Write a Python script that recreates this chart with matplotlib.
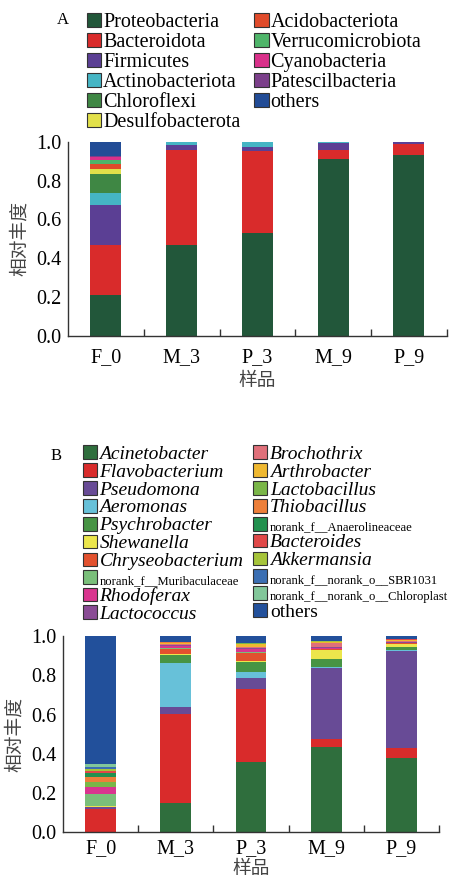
import matplotlib
matplotlib.use('Agg')
import matplotlib.pyplot as plt
import numpy as np
from matplotlib.patches import Patch

plt.rcParams['font.family'] = ['Liberation Serif', 'Noto Sans CJK SC']

samples = ['F_0', 'M_3', 'P_3', 'M_9', 'P_9']

# panel A - phylum level
phyla = ['Proteobacteria', 'Bacteroidota', 'Firmicutes', 'Actinobacteriota',
         'Chloroflexi', 'Desulfobacterota', 'Acidobacteriota', 'Verrucomicrobiota',
         'Cyanobacteria', 'Patescilbacteria', 'others']
phyla_colors = ['#22573a', '#d92b2b', '#5b3f94', '#45b5c4', '#3f8744', '#e2e04a',
                '#e04b2b', '#4fb56a', '#d9308a', '#7b3f8a', '#224c96']
proteo = [0.211, 0.468, 0.530, 0.909, 0.931]
bactero = [0.259, 0.489, 0.424, 0.050, 0.057]
firmic = [0.204, 0.024, 0.018, 0.036, 0.009]
actino = [0.062, 0.017, 0.025, 0.001, 0.001]
chloro = [0.098, 0.0, 0.0, 0.0, 0.0]
desulfo = [0.025, 0.0, 0.0, 0.0, 0.0]
acido = [0.024, 0.0, 0.0, 0.0, 0.0]
verruco = [0.021, 0.0, 0.0, 0.0, 0.0]
cyano = [0.017, 0.0, 0.0, 0.0, 0.0]
patesc = [0.007, 0.0, 0.0, 0.0, 0.0]
others_a = [0.072, 0.002, 0.003, 0.004, 0.002]
phyla_vals = [proteo, bactero, firmic, actino, chloro, desulfo, acido,
              verruco, cyano, patesc, others_a]

# panel B - genus level
genera = ['Acinetobacter', 'Flavobacterium', 'Pseudomona', 'Aeromonas',
          'Psychrobacter', 'Shewanella', 'Chryseobacterium',
          'norank_f__Muribaculaceae', 'Rhodoferax', 'Lactococcus',
          'Brochothrix', 'Arthrobacter', 'Lactobacillus', 'Thiobacillus',
          'norank_f__Anaerolineaceae', 'Bacteroides', 'Akkermansia',
          'norank_f__norank_o__SBR1031', 'norank_f__norank_o__Chloroplast', 'others']
genera_colors = ['#2f6e3d', '#d92b2b', '#684b96', '#67c1d9', '#479444', '#ece64c',
                 '#e2512e', '#7abf7a', '#d9358f', '#8a4c95', '#e0707a', '#efb830',
                 '#7ab648', '#ed7f3a', '#22914f', '#e04848', '#a6c43a', '#3b6fb3',
                 '#82c79a', '#22509b']
acineto = [0.002, 0.148, 0.360, 0.436, 0.380]
flavo = [0.117, 0.453, 0.368, 0.038, 0.048]
pseudo = [0.008, 0.036, 0.057, 0.361, 0.497]
aero = [0.002, 0.224, 0.030, 0.008, 0.006]
psychro = [0.002, 0.041, 0.051, 0.042, 0.014]
shewa = [0.001, 0.006, 0.008, 0.044, 0.016]
chryseo = [0.002, 0.026, 0.038, 0.005, 0.003]
muribac = [0.061, 0.004, 0.006, 0.002, 0.001]
rhodo = [0.034, 0.010, 0.014, 0.004, 0.002]
lactoc = [0.001, 0.007, 0.007, 0.004, 0.002]
brocho = [0.001, 0.005, 0.004, 0.022, 0.006]
arthro = [0.001, 0.006, 0.018, 0.003, 0.005]
lactob = [0.026, 0.001, 0.002, 0.001, 0.001]
thiob = [0.022, 0.001, 0.001, 0.001, 0.001]
anaero = [0.022, 0.001, 0.001, 0.0, 0.0]
bacteroides = [0.010, 0.001, 0.001, 0.001, 0.001]
akker = [0.010, 0.001, 0.001, 0.001, 0.001]
sbr = [0.013, 0.0, 0.0, 0.0, 0.0]
chloropl = [0.015, 0.0, 0.0, 0.0, 0.0]
others_b = [0.650, 0.029, 0.033, 0.027, 0.016]
genera_vals = [acineto, flavo, pseudo, aero, psychro, shewa, chryseo, muribac,
               rhodo, lactoc, brocho, arthro, lactob, thiob, anaero, bacteroides,
               akker, sbr, chloropl, others_b]

cjk = ['Noto Sans CJK SC']


def draw_stack(ax, vals, colors, xpad=9, xlpad=2):
    x = np.arange(len(samples))
    bottom = np.zeros(len(samples))
    for v, c in zip(vals, colors):
        ax.bar(x, v, bottom=bottom, width=0.41, color=c, linewidth=0)
        bottom += np.array(v)
    ax.set_xlim(-0.5, 4.5)
    ax.set_ylim(0, 1.0)
    ax.set_xticks(x)
    ax.set_xticklabels(samples, fontsize=14.5)
    ax.set_xticks(np.arange(0.5, 5, 1), minor=True)
    ax.tick_params(axis='x', which='major', length=0, pad=xpad)
    ax.tick_params(axis='x', which='minor', direction='in', length=5, width=1, color='#333333')
    ax.set_yticks(np.arange(0, 1.01, 0.2))
    ax.set_yticklabels(['%.1f' % t for t in np.arange(0, 1.01, 0.2)], fontsize=14.5)
    ax.tick_params(axis='y', length=0, pad=5)
    ax.spines['top'].set_visible(False)
    ax.spines['right'].set_visible(False)
    for s in ['left', 'bottom']:
        ax.spines[s].set_color('#333333')
        ax.spines[s].set_linewidth(1.0)
    ax.set_ylabel('相对丰度', family=cjk, fontsize=13.5, color='#444444', labelpad=4)
    ax.set_xlabel('样品', family=cjk, fontsize=13.5, color='#444444', labelpad=xlpad)


fig = plt.figure(figsize=(4.5, 8.83), dpi=100)

axA = fig.add_axes([0.151, 0.6195, 0.842, 0.22])
draw_stack(axA, phyla_vals, phyla_colors)
hA = [Patch(facecolor=c, edgecolor='#333333', linewidth=0.8) for c in phyla_colors]
legA = fig.legend(hA, phyla, loc='upper left', bbox_to_anchor=(87 / 450, 1 - 13 / 883),
                  ncol=2, frameon=False, fontsize=14.5, handlelength=0.7, handleheight=0.7,
                  handletextpad=0.1, labelspacing=0.04, columnspacing=0.7, borderpad=0,
                  borderaxespad=0)
fig.text(63 / 450, 1 - 20 / 883, 'A', fontsize=12, va='center', ha='center')

axB = fig.add_axes([0.140, 0.0574, 0.8356, 0.2223])
draw_stack(axB, genera_vals, genera_colors, xpad=5, xlpad=0)
hB = [Patch(facecolor=c, edgecolor='#333333', linewidth=0.8) for c in genera_colors]
legB = fig.legend(hB, genera, loc='upper left', bbox_to_anchor=(83 / 450, 1 - 445 / 883),
                  ncol=2, frameon=False, fontsize=14, handlelength=0.72, handleheight=0.72,
                  handletextpad=0.13, labelspacing=0.01, columnspacing=0.5, borderpad=0,
                  borderaxespad=0)
for t in legB.get_texts():
    name = t.get_text()
    if name.startswith('norank'):
        t.set_fontsize(9.1)
    elif name != 'others':
        t.set_fontstyle('italic')
fig.text(56 / 450, 1 - 456 / 883, 'B', fontsize=12, va='center', ha='center')

fig.savefig('out.png', dpi=100)
